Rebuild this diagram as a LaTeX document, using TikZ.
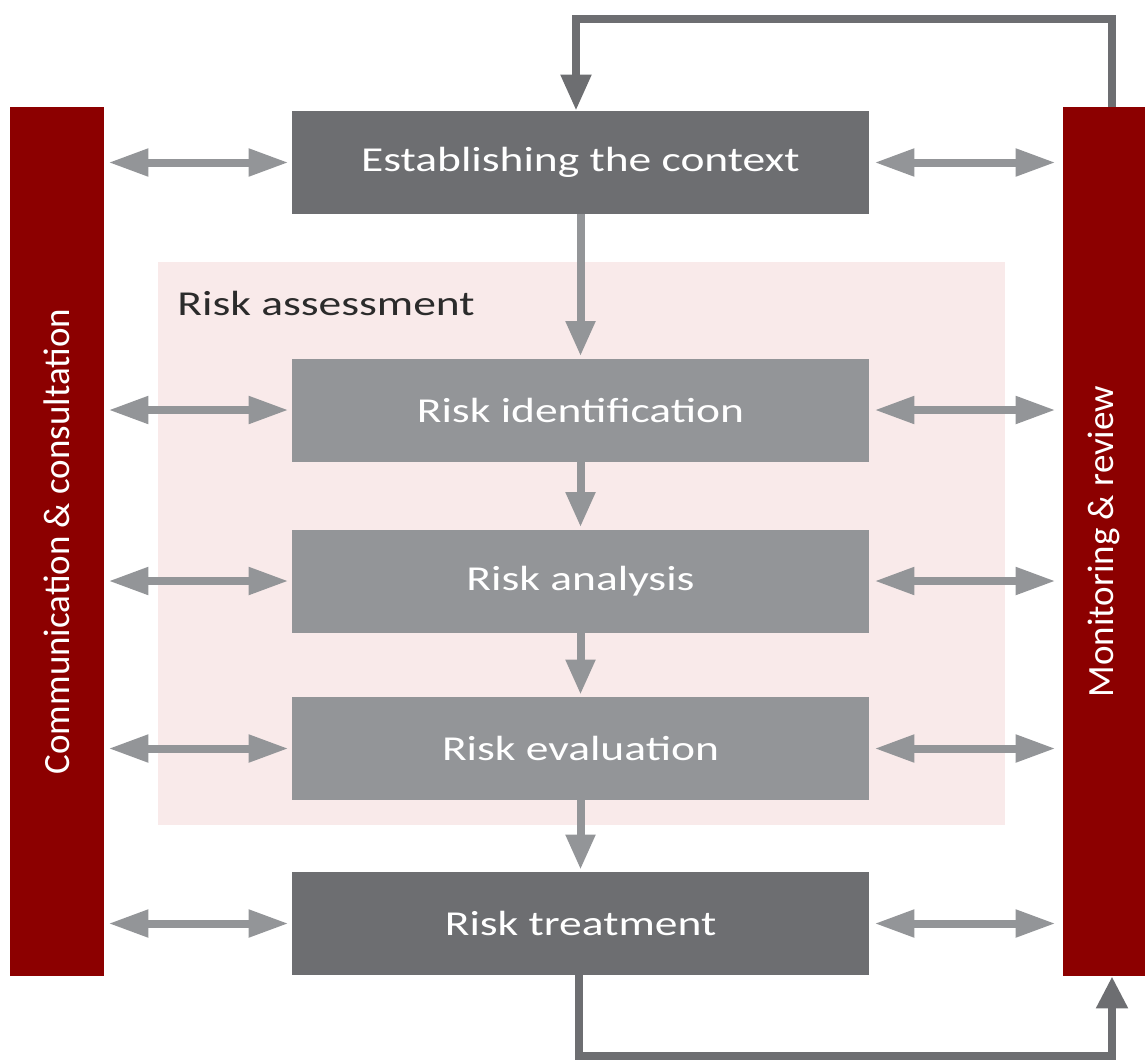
\documentclass[tikz,border=0pt]{standalone}
\usepackage{fontspec}
\usepackage{graphicx}
\setmainfont{Carlito}
\usetikzlibrary{arrows.meta}
\definecolor{dkgray}{HTML}{6D6E71}
\definecolor{ltgray}{HTML}{939598}
\definecolor{barred}{HTML}{8C0000}
\definecolor{pinkbg}{HTML}{F9EAEA}
\definecolor{txtdark}{HTML}{2B2B2B}
\newcommand{\widetxt}[1]{\scalebox{1.3}[1]{#1}}
\begin{document}
\begin{tikzpicture}[x=0.5pt,y=-0.5pt,
  procbox/.style={minimum width=288.5pt,minimum height=51.5pt,inner sep=0pt,text=white,font=\fontsize{17.5}{20}\selectfont},
  darkbox/.style={procbox,fill=dkgray},
  lightbox/.style={procbox,fill=ltgray},
  sidebar/.style={fill=barred,minimum width=434.5pt,inner sep=0pt,text=white,font=\fontsize{18.5}{21}\selectfont,rotate=90},
  dblarrow/.style={draw=ltgray,line width=4pt,{Triangle[length=20pt,width=13pt]}-{Triangle[length=20pt,width=13pt]}},
  downarrow/.style={draw=ltgray,line width=4pt,-{Triangle[length=17.5pt,width=14pt]}},
  feedback/.style={draw=dkgray,line width=4pt},
]
\useasboundingbox (0,0) rectangle (1145,1061);
% risk assessment background
\fill[pinkbg] (158,262) rectangle (1005,825);
\node[anchor=base west,inner sep=0pt,text=txtdark,font=\fontsize{17.5}{20}\selectfont] (ralabel) at (177,315) {\widetxt{Risk assessment}};
% side bars
\node[sidebar,minimum height=47pt] (lbar) at (57,541.5) {Communication \& consultation};
\node[sidebar,minimum height=41pt] (rbar) at (1104,541.5) {Monitoring \& review};
% process boxes
\node[darkbox] (ctx) at (580.5,162.5) {\widetxt{Establishing the context}};
\node[lightbox] (ident) at (580.5,410) {\widetxt{Risk identification}};
\node[lightbox] (anal) at (580.5,581) {\widetxt{Risk analysis}};
\node[lightbox] (eval) at (580.5,748.5) {\widetxt{Risk evaluation}};
\node[darkbox] (treat) at (580.5,923.5) {\widetxt{Risk treatment}};
% vertical arrows
\draw[downarrow,shorten >=1pt] (ctx.south) -- (ident.north);
\draw[downarrow,shorten >=1pt] (ident.south) -- (anal.north);
\draw[downarrow,shorten >=1pt] (anal.south) -- (eval.north);
\draw[downarrow,shorten >=1pt] (eval.south) -- (treat.north);
% double arrows
\foreach \n in {ctx,ident,anal,eval,treat}{
  \draw[dblarrow,shorten <=2pt,shorten >=1.5pt] (lbar.south |- \n.west) -- (\n.west);
  \draw[dblarrow,shorten <=2.5pt,shorten >=3.5pt] (\n.east) -- (rbar.north |- \n.east);
}
% feedback loops
\coordinate (tr) at (1112,19);
\coordinate (tl) at (576,19);
\draw[feedback,-{Triangle[length=18pt,width=14.5pt]}] (rbar.east -| tr) -- (tr) -- (tl) -- (tl |- ctx.north);
\coordinate (bl) at (579,1056);
\coordinate (br) at (1112,1056);
\draw[feedback,-{Triangle[length=16pt,width=15pt]}] (treat.south -| bl) -- (bl) -- (br) -- (br |- rbar.west);
\end{tikzpicture}
\end{document}
